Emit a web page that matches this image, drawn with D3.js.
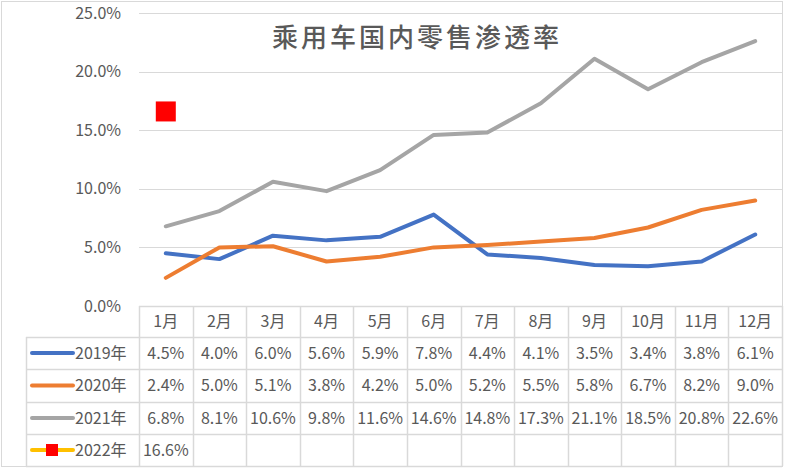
<!DOCTYPE html>
<html><head><meta charset="utf-8">
<script src="https://cdn.jsdelivr.net/npm/d3@7"></script>
<style>
html,body{margin:0;padding:0;background:#fff;}
text{font-family:"Noto Sans CJK SC","Noto Sans",sans-serif;fill:#595959;}
</style></head>
<body><svg id="c" width="785" height="468"></svg>
<script>
const title = "乘用车国内零售渗透率";
const categories = ["1月","2月","3月","4月","5月","6月","7月","8月","9月","10月","11月","12月"];
const seriesNames = ["2019年","2020年","2021年","2022年"];
const s2019 = [4.5,4.0,6.0,5.6,5.9,7.8,4.4,4.1,3.5,3.4,3.8,6.1];
const s2020 = [2.4,5.0,5.1,3.8,4.2,5.0,5.2,5.5,5.8,6.7,8.2,9.0];
const s2021 = [6.8,8.1,10.6,9.8,11.6,14.6,14.8,17.3,21.1,18.5,20.8,22.6];
const s2022 = [16.6];
const yTicks = [0,5,10,15,20,25];
const colors = ["#4472C4","#ED7D31","#A5A5A5","#FFC000"];

const series = [s2019,s2020,s2021,s2022];
const svg = d3.select("#c");
const L = 139, R = 782, T = 13, B = 306;
const grid = "#D9D9D9";

// chart border
svg.append("rect").attr("x",1.5).attr("y",1.5).attr("width",781).attr("height",465)
  .attr("fill","#fff").attr("stroke",grid).attr("stroke-width",1);

const x = d3.scaleBand().domain(categories).range([L,R]);
const y = d3.scaleLinear().domain([0,25]).range([B,T]);

// gridlines
svg.append("g").selectAll("line").data(yTicks.filter(d=>d>0)).join("line")
  .attr("x1",L).attr("x2",R).attr("y1",d=>Math.round(y(d))+0.5).attr("y2",d=>Math.round(y(d))+0.5)
  .attr("stroke",grid).attr("stroke-width",1);

// y axis labels
const yAxis = d3.axisLeft(y).tickValues(yTicks).tickSize(0).tickPadding(0)
  .tickFormat(d=>d.toFixed(1)+"%");
const ga = svg.append("g").attr("transform",`translate(121,0)`).call(yAxis);
ga.select(".domain").remove();
ga.selectAll("text").attr("font-size",16).style("font-family",'"Noto Sans CJK SC",sans-serif').attr("fill","#595959");

// title
svg.append("text").attr("x",417).attr("y",47).attr("text-anchor","middle")
  .attr("font-size",26).attr("font-weight",500).attr("letter-spacing",3).text(title);

// lines
const line = d3.line().x((d,i)=>x(categories[i])+x.bandwidth()/2).y(d=>y(d));
series.slice(0,3).forEach((s,k)=>{
  svg.append("path").datum(s).attr("d",line).attr("fill","none")
    .attr("stroke",colors[k]).attr("stroke-width",4).attr("stroke-linejoin","round").attr("stroke-linecap","round");
});
// 2022 marker
svg.append("g").selectAll("rect").data(s2022).join("rect")
  .attr("x",(d,i)=>x(categories[i])+x.bandwidth()/2-10)
  .attr("y",d=>y(d)-10).attr("width",20).attr("height",20).attr("fill","#FF0000");

// data table
const rowEdges = [306,337,369,402,434,466];
const LL = 26;
const tg = svg.append("g");
rowEdges.forEach((ry,i)=>{
  tg.append("line").attr("x1", i===0 ? L : LL).attr("x2",R).attr("y1",ry+0.5).attr("y2",ry+0.5)
    .attr("stroke",grid).attr("stroke-width",1.5);
});
tg.append("line").attr("x1",LL+0.5).attr("x2",LL+0.5).attr("y1",rowEdges[1]).attr("y2",rowEdges[5]).attr("stroke",grid).attr("stroke-width",1.5);
categories.forEach(c=>{
  tg.append("line").attr("x1",Math.round(x(c))+0.5).attr("x2",Math.round(x(c))+0.5)
    .attr("y1",rowEdges[0]).attr("y2",rowEdges[5]).attr("stroke",grid).attr("stroke-width",1.5);
});
tg.append("line").attr("x1",R+0.5).attr("x2",R+0.5).attr("y1",rowEdges[0]).attr("y2",rowEdges[5]).attr("stroke",grid).attr("stroke-width",1.5);

tg.selectAll("text.h").data(categories).join("text").attr("class","h")
  .attr("x",d=>x(d)+x.bandwidth()/2).attr("y",(rowEdges[0]+rowEdges[1])/2)
  .attr("dy","0.36em").attr("text-anchor","middle").attr("font-size",16).text(d=>d);

series.forEach((s,k)=>{
  const cy = (rowEdges[k+1]+rowEdges[k+2])/2;
  tg.append("line").attr("x1",32).attr("x2",73).attr("y1",cy).attr("y2",cy)
    .attr("stroke",colors[k]).attr("stroke-width",4).attr("stroke-linecap","round");
  if(k===3){
    tg.append("rect").attr("x",46).attr("y",cy-6).attr("width",12).attr("height",12).attr("fill","#FF0000");
  }
  tg.append("text").attr("x",75).attr("y",cy).attr("dy","0.36em").attr("font-size",16).text(seriesNames[k]);
  tg.selectAll(null).data(s).join("text")
    .attr("x",(d,i)=>x(categories[i])+x.bandwidth()/2).attr("y",cy).attr("dy","0.36em")
    .attr("text-anchor","middle").attr("font-size",16).text(d=>d.toFixed(1)+"%");
});
</script></body></html>
